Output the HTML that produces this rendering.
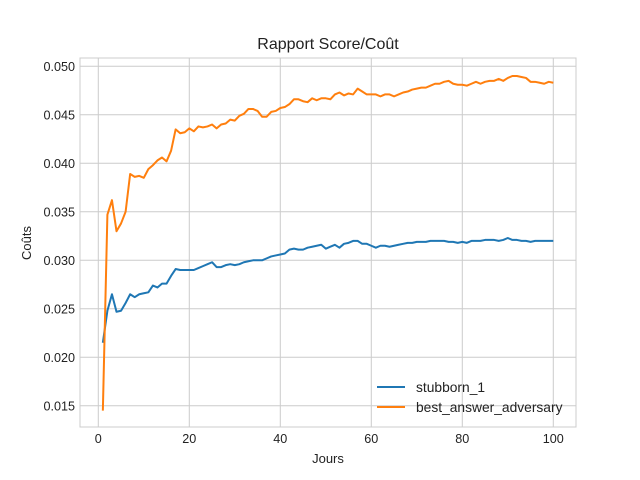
<!DOCTYPE html>
<html><head><meta charset="utf-8"><style>
body{margin:0;background:#fff;}
svg{display:block;font-family:"Liberation Sans",sans-serif;}
</style></head><body>
<svg id="chart" width="640" height="480" viewBox="0 0 640 480">
<rect x="0" y="0" width="640" height="480" fill="#fff"/>
<g id="grid"></g>
<g id="series"></g>
<rect x="80" y="58" width="496" height="369" fill="none" stroke="#ccc" stroke-width="1"/>
<text x="328" y="49" text-anchor="middle" font-size="16" fill="#222">Rapport Score/Coût</text>
<text x="328" y="463" text-anchor="middle" font-size="13" fill="#222">Jours</text>
<text x="31" y="243" text-anchor="middle" font-size="13" fill="#222" transform="rotate(-90 31 243)">Coûts</text>
<g>
<line x1="377" y1="387" x2="405" y2="387" stroke="#1f77b4" stroke-width="2"/>
<text x="416" y="392" font-size="13.8" fill="#222">stubborn_1</text>
<line x1="377" y1="407" x2="405" y2="407" stroke="#ff7f0e" stroke-width="2"/>
<text x="416" y="412" font-size="13.8" fill="#222">best_answer_adversary</text>
</g>
</svg>
<script>
const days = Array.from({length:100},(_, i)=>i+1);
const stubborn = [0.0215,0.0248,0.0265,0.0247,0.0248,0.0256,0.0265,0.0262,0.0265,0.0266,
0.0267,0.0274,0.0272,0.0276,0.0276,0.0284,0.0291,0.0290,0.0290,0.0290,
0.0290,0.0292,0.0294,0.0296,0.0298,0.0293,0.0293,0.0295,0.0296,0.0295,
0.0296,0.0298,0.0299,0.0300,0.0300,0.0300,0.0302,0.0304,0.0305,0.0306,
0.0307,0.0311,0.0312,0.0311,0.0311,0.0313,0.0314,0.0315,0.0316,0.0312,
0.0314,0.0316,0.0313,0.0317,0.0318,0.0320,0.0320,0.0317,0.0317,0.0315,
0.0313,0.0315,0.0315,0.0314,0.0315,0.0316,0.0317,0.0318,0.0318,0.0319,
0.0319,0.0319,0.0320,0.0320,0.0320,0.0320,0.0319,0.0319,0.0318,0.0319,
0.0318,0.0320,0.0320,0.0320,0.0321,0.0321,0.0321,0.0320,0.0321,0.0323,
0.0321,0.0321,0.0320,0.0320,0.0319,0.0320,0.0320,0.0320,0.0320,0.0320];
const bestAnswer = [0.0145,0.0347,0.0362,0.0330,0.0338,0.0350,0.0389,0.0386,0.0387,0.0385,
0.0394,0.0398,0.0403,0.0406,0.0402,0.0413,0.0435,0.0431,0.0432,0.0436,
0.0433,0.0438,0.0437,0.0438,0.0440,0.0436,0.0440,0.0441,0.0445,0.0444,
0.0449,0.0451,0.0456,0.0456,0.0454,0.0448,0.0448,0.0453,0.0454,0.0457,
0.0458,0.0461,0.0466,0.0466,0.0464,0.0463,0.0467,0.0465,0.0467,0.0467,
0.0466,0.0471,0.0473,0.0470,0.0472,0.0471,0.0477,0.0474,0.0471,0.0471,
0.0471,0.0469,0.0471,0.0471,0.0469,0.0471,0.0473,0.0474,0.0476,0.0477,
0.0478,0.0478,0.0480,0.0482,0.0482,0.0484,0.0485,0.0482,0.0481,0.0481,
0.0480,0.0482,0.0484,0.0482,0.0484,0.0485,0.0485,0.0487,0.0485,0.0488,
0.0490,0.0490,0.0489,0.0488,0.0484,0.0484,0.0483,0.0482,0.0484,0.0483];
const xTicks = [0,20,40,60,80,100];
const yTicks = [0.015,0.020,0.025,0.030,0.035,0.040,0.045,0.050];

const NS="http://www.w3.org/2000/svg";
function xs(v){return 98.3 + v*4.55;}
function ys(v){return 66.3 + (0.050 - v)/0.005*48.5;}
const grid=document.getElementById('grid');
const ser=document.getElementById('series');
xTicks.forEach(t=>{
  const l=document.createElementNS(NS,'line');
  
  
  l.setAttribute('x1',xs(t));l.setAttribute('x2',xs(t));l.setAttribute('y1',58);l.setAttribute('y2',427);
  l.setAttribute('stroke','#ccc');l.setAttribute('stroke-width','1');grid.appendChild(l);
  const tx=document.createElementNS(NS,'text');
  
  
  tx.setAttribute('x',xs(t));tx.setAttribute('y',443);tx.setAttribute('text-anchor','middle');
  tx.setAttribute('font-size','12.6');tx.setAttribute('fill','#222');tx.textContent=t;grid.appendChild(tx);
});
yTicks.forEach(t=>{
  const l=document.createElementNS(NS,'line');
  
  
  l.setAttribute('x1',80);l.setAttribute('x2',576);l.setAttribute('y1',ys(t));l.setAttribute('y2',ys(t));
  l.setAttribute('stroke','#ccc');l.setAttribute('stroke-width','1');grid.appendChild(l);
  const tx=document.createElementNS(NS,'text');
  
  
  tx.setAttribute('x',75);tx.setAttribute('y',ys(t)+4.5);tx.setAttribute('text-anchor','end');
  tx.setAttribute('font-size','12.6');tx.setAttribute('fill','#222');tx.textContent=t.toFixed(3);grid.appendChild(tx);
});
function drawLine(vals,color,name){
  const p=document.createElementNS(NS,'polyline');
  
  
  p.setAttribute('points',vals.map((v,i)=>xs(days[i]).toFixed(2)+','+ys(v).toFixed(2)).join(' '));
  p.setAttribute('fill','none');p.setAttribute('stroke',color);p.setAttribute('stroke-width','2');
  p.setAttribute('stroke-linejoin','round');
  ser.appendChild(p);
}
drawLine(stubborn,'#1f77b4','stubborn-line');
drawLine(bestAnswer,'#ff7f0e','best-answer-line');
</script>
</body></html>
